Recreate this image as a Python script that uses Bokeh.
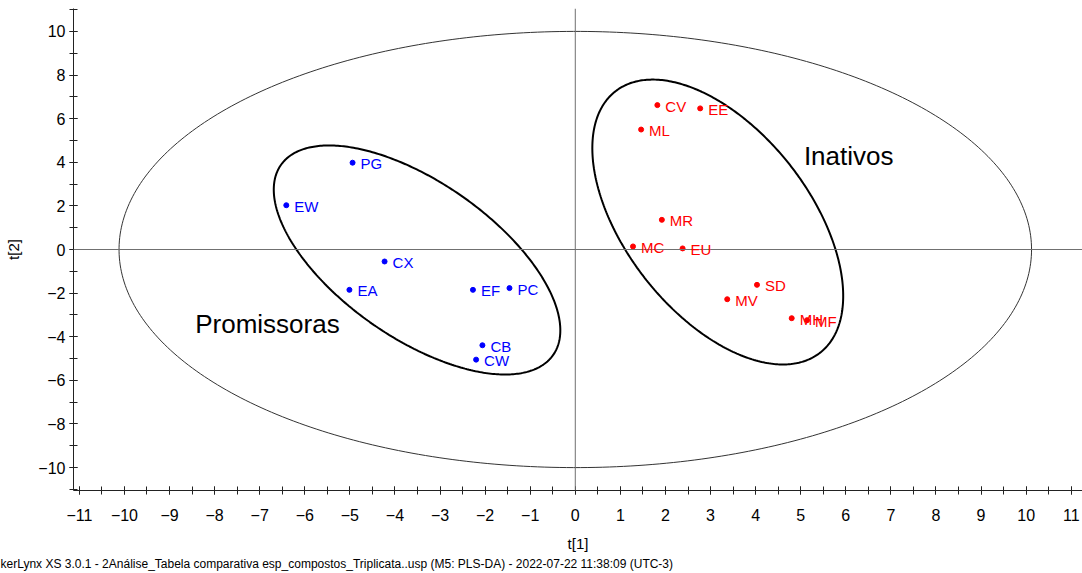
import numpy as np
from bokeh.plotting import figure
from bokeh.models import (ColumnDataSource, Span, Label, Title, SingleIntervalTicker,
                          Range1d, LabelSet)
from bokeh.core.properties import value
from bokeh.embed import file_html
from bokeh.resources import INLINE

# ---- data (scores t[1], t[2]) ----
prom_names = ["PG", "EW", "CX", "EA", "EF", "PC", "CB", "CW"]
prom_t1 = [-4.94, -6.41, -4.23, -5.01, -2.27, -1.46, -2.06, -2.20]
prom_t2 = [3.98, 2.03, -0.55, -1.85, -1.85, -1.77, -4.39, -5.05]

inat_names = ["CV", "EE", "ML", "MR", "MC", "EU", "SD", "MV", "MH", "MF"]
inat_t1 = [1.82, 2.77, 1.46, 1.92, 1.28, 2.38, 4.03, 3.37, 4.80, 5.14]
inat_t2 = [6.62, 6.47, 5.50, 1.36, 0.14, 0.05, -1.62, -2.28, -3.15, -3.24]

x_ticks_labels = [str(v) for v in range(-11, 12)]
y_ticks_labels = [str(v) for v in range(-10, 11, 2)]

# Hotelling T2 ellipse semi-axes (data units)
t2_ax = [10.12, 10.0]
# hand-drawn group ellipses: centre (data), semi-axes (px), tilt (deg, clockwise on screen)
group_ell = {
    "Promissoras": dict(c=(-3.51, -0.48), a=166, b=78, deg=34.9),
    "Inativos": dict(c=(3.16, 1.26), a=166, b=92, deg=51.9),
}

W, H = 1082, 573
BL, BR, BT, BB = 73, 0, 8, 83
x0, x1 = -11.13, 11.25
y0, y1 = -11.05, 11.05

p = figure(width=W, height=H, output_backend="svg", toolbar_location=None,
           x_range=Range1d(x0, x1), y_range=Range1d(y0, y1),
           min_border_left=BL, min_border_right=BR, min_border_top=BT, min_border_bottom=BB)
p.outline_line_color = None
p.xgrid.visible = False
p.ygrid.visible = False
p.background_fill_color = "white"
p.border_fill_color = "white"

FONT = "Liberation Sans"
for ax in (p.xaxis[0], p.yaxis[0]):
    ax.axis_line_color = "#222222"
    ax.major_tick_line_color = "#222222"
    ax.minor_tick_line_color = "#222222"
    ax.major_tick_in = 4
    ax.major_tick_out = 4
    ax.minor_tick_in = 4
    ax.minor_tick_out = 4
    ax.major_label_text_font = FONT
    ax.major_label_text_font_size = "16px"
    ax.major_label_text_color = "black"
    ax.axis_label_text_font = FONT
    ax.axis_label_text_font_size = "15px"
    ax.axis_label_text_font_style = "normal"
    ax.axis_label_text_color = "black"

p.xaxis.ticker = SingleIntervalTicker(interval=1, num_minor_ticks=2)
p.yaxis.ticker = SingleIntervalTicker(interval=2, num_minor_ticks=2)
p.xaxis.axis_label = "t[1]"
p.yaxis.axis_label = "t[2]"
p.xaxis.major_label_standoff = 14
p.xaxis.axis_label_standoff = 11
p.yaxis.major_label_standoff = 4
p.yaxis.axis_label_standoff = 13

# origin lines
p.add_layout(Span(location=0, dimension="width", line_color="#707070", line_width=1))
p.add_layout(Span(location=0, dimension="height", line_color="#707070", line_width=1))

# Hotelling ellipse
t = np.linspace(0, 2 * np.pi, 400)
p.line(t2_ax[0] * np.cos(t), t2_ax[1] * np.sin(t), line_color="#333333", line_width=1)

# group ellipses (defined on screen, converted to data units)
PX_X = (W - BL - BR) / (x1 - x0)
PX_Y = (H - BT - BB) / (y1 - y0)
for name, e in group_ell.items():
    th = np.deg2rad(e["deg"])
    sx = e["a"] * np.cos(t) * np.cos(th) - e["b"] * np.sin(t) * np.sin(th)
    sy = e["a"] * np.cos(t) * np.sin(th) + e["b"] * np.sin(t) * np.cos(th)
    p.line(e["c"][0] + sx / PX_X, e["c"][1] - sy / PX_Y, line_color="black", line_width=2)

# points + labels
for names, xs, ys, col in ((prom_names, prom_t1, prom_t2, "#0000ff"),
                           (inat_names, inat_t1, inat_t2, "#ff0000")):
    src = ColumnDataSource(dict(x=xs, y=ys, name=names))
    p.scatter("x", "y", source=src, size=5, color=col)
    p.add_layout(LabelSet(x="x", y="y", text="name", source=src, x_offset=8, y_offset=-1,
                          text_font=value(FONT), text_font_size="15px", text_color=col,
                          text_baseline="middle", text_align="left"))

# group names
p.add_layout(Label(x=-8.43, y=-3.42, text="Promissoras", text_font=FONT, text_font_size="26px",
                   text_color="black", text_baseline="middle", text_align="left"))
p.add_layout(Label(x=5.07, y=4.3, text="Inativos", text_font=FONT, text_font_size="26px",
                   text_color="black", text_baseline="middle", text_align="left"))

# footer
p.add_layout(Title(text="kerLynx XS 3.0.1 - 2Análise_Tabela comparativa esp_compostos_Triplicata..usp (M5: PLS-DA) - 2022-07-22 11:38:09 (UTC-3)",
                   align="left", offset=-73, standoff=0, text_font=FONT, text_font_size="12px",
                   text_font_style="normal", text_color="black"), "below")

open("out.html", "w").write(file_html(p, INLINE))
